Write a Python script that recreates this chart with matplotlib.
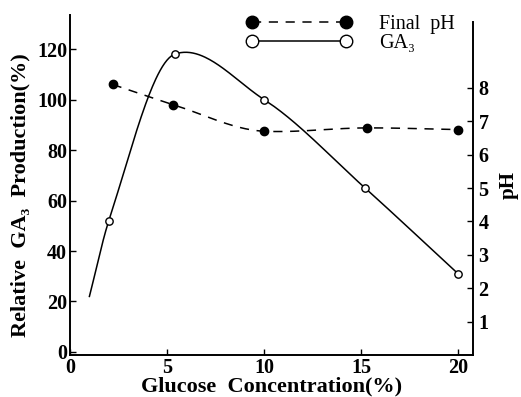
import numpy as np
import matplotlib
matplotlib.use("Agg")
import matplotlib.pyplot as plt

# data
glucose_ga3 = [2.0, 5.4, 10.0, 15.2, 20.0]
ga3_rel = [52, 118, 100, 65, 31]
ga3_start = (1.0, 22)          # where the drawn GA3 curve begins (no marker)

glucose_ph = [2.2, 5.3, 10.0, 15.3, 20.0]
final_ph = [8.1, 7.5, 6.7, 6.8, 6.75]

xticks = [0, 5, 10, 15, 20]
yticks_left = [0, 20, 40, 60, 80, 100, 120]
yticks_right = [1, 2, 3, 4, 5, 6, 7, 8]


def smooth(x, y, n=60):
    # shape preserving cubic through the points (pchip-like tangents)
    x = np.asarray(x, float); y = np.asarray(y, float)
    d = np.diff(y) / np.diff(x)
    m = np.zeros_like(y)
    for i in range(1, len(x) - 1):
        if d[i-1] * d[i] > 0:
            m[i] = 2.0 / (1.0/d[i-1] + 1.0/d[i])
        else:
            m[i] = 0.35 * (d[i-1] + d[i]) / 2
    m[0], m[-1] = d[0], d[-1]
    xs, ys = [], []
    for i in range(len(x) - 1):
        h = x[i + 1] - x[i]
        t = np.linspace(0, 1, n)
        h00 = 2*t**3 - 3*t**2 + 1
        h10 = t**3 - 2*t**2 + t
        h01 = -2*t**3 + 3*t**2
        h11 = t**3 - t**2
        xs.append(x[i] + t*h)
        ys.append(h00*y[i] + h10*h*m[i] + h01*y[i+1] + h11*h*m[i+1])
    return np.concatenate(xs), np.concatenate(ys)


plt.rcParams['font.family'] = ['Liberation Serif', 'DejaVu Serif']
plt.rcParams['font.weight'] = 'bold'

fig = plt.figure(figsize=(5.21, 3.97), dpi=100)
ax = fig.add_axes([70/521, 1 - 355/397, 403/521, 340/397])
ax2 = ax.twinx()

# GA3 curve (left axis)
cx, cy = smooth([ga3_start[0]] + glucose_ga3, [ga3_start[1]] + ga3_rel)
ax.plot(cx, cy, color='black', lw=1.1)
ax.plot(glucose_ga3, ga3_rel, 'o', ms=5.3, mfc='white', mec='black', mew=1.0)

# final pH curve (right axis)
px, py = smooth(glucose_ph, final_ph)
ax2.plot(px, py, color='black', lw=1.1, dashes=(6, 5))
ax2.plot(glucose_ph, final_ph, 'o', ms=6, color='black')

ax.set_xlim(0, 20.77)
ax.set_ylim(-1.2, 133.5)
ax2.set_ylim(0, 10.18)

for s in ['top', 'right']:
    ax.spines[s].set_visible(False)
for s in ['top', 'left', 'bottom']:
    ax2.spines[s].set_visible(False)
ax2.spines['right'].set_bounds(0, 9.98)
for sp in [ax.spines['left'], ax.spines['bottom'], ax2.spines['right']]:
    sp.set_linewidth(1.4)

ax.set_xticks(xticks)
ax.set_yticks(yticks_left)
ax2.set_yticks(yticks_right)
ax.tick_params(direction='in', length=4, width=1.0, labelsize=14.5, pad=2)
ax2.tick_params(direction='in', length=4, width=1.0, labelsize=14.5, pad=4)

ax.set_xlabel('Glucose  Concentration(%)', fontsize=16, fontweight='bold', labelpad=-1)
ax.set_ylabel('Relative  GA\u2083  Production(%)', fontsize=16, fontweight='bold')
ax.yaxis.set_label_coords(-0.097, 0.47)
ax2.set_ylabel('pH', fontsize=15, fontweight='bold', rotation=90, labelpad=7)

# legend: markers on both ends of the line sample
h1, = ax.plot([], [], color='black', lw=1.1, dashes=(6, 5), marker='o', ms=9)
h2, = ax.plot([], [], color='black', lw=1.1, marker='o', ms=9, mfc='white', mec='black')
fig.legend([h1, h2], ['Final  pH', 'GA\u2083'], loc='upper left',
           bbox_to_anchor=(0.437, 1.008), frameon=False, numpoints=2,
           handlelength=5.3, handletextpad=1.3, labelspacing=0.0,
           prop={'family': ['Liberation Serif', 'DejaVu Serif'], 'weight': 'normal', 'size': 14.5})

fig.savefig('out.png', dpi=100)
